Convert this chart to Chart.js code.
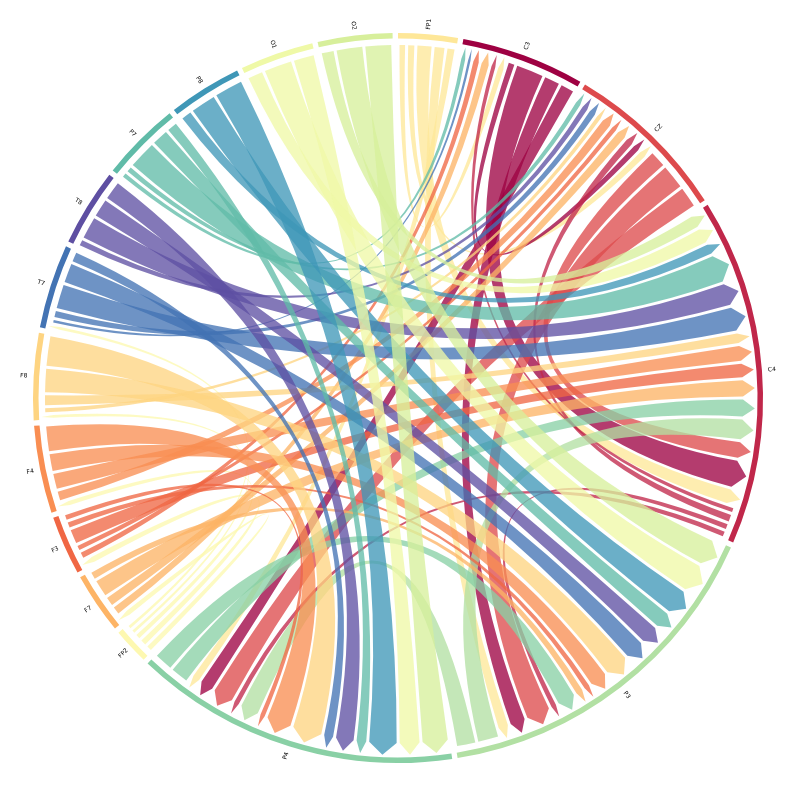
<!DOCTYPE html>
<html>
<head>
<meta charset="utf-8">
<title>Chord diagram</title>
<script src="https://cdn.jsdelivr.net/npm/chart.js@4"></script>
<style>
    html, body { margin: 0; padding: 0; background: #fff; }
    canvas { display: block; }
</style>
</head>
<body>
<canvas id="chordChart" width="796" height="796"></canvas>
<script>
// Sectors, clockwise from the top
const sectorNames = ["FP1", "C3", "CZ", "C4", "P3", "P4", "FP2", "F7", "F3", "F4", "F8", "T7", "T8", "P7", "P8", "O1", "O2"];
const sectorColors = ["#fee798", "#9e0142", "#dd4a4c", "#c0274a", "#b2e0a3", "#89d0a5", "#fdf8b0", "#fdb466", "#f06744", "#f98e52", "#fed481", "#4373b3", "#5e4fa2", "#60bba8", "#3f97b7", "#eff9a7", "#d7ef9b"];

// Links: source, target, width
const linkSource = [
    "FP1", "FP1", "FP1", "FP1", "FP1",
    "C3", "C3", "C3", "C3",
    "CZ", "CZ", "CZ",
    "C4", "C4", "C4", "C4",
    "P3", "P3",
    "P4", "P4",
    "FP2", "FP2", "FP2", "FP2", "FP2",
    "F7", "F7", "F7", "F7",
    "F3", "F3", "F3", "F3", "F3",
    "F4", "F4", "F4", "F4",
    "F8", "F8", "F8", "F8",
    "T7", "T7", "T7", "T7", "T7",
    "T8", "T8", "T8", "T8",
    "P7", "P7", "P7", "P7", "P7",
    "P8", "P8", "P8",
    "O1", "O1", "O1",
    "O2", "O2", "O2"
];
const linkTarget = [
    "C3", "CZ", "C4", "P3", "P4",
    "CZ", "C4", "P3", "P4",
    "C4", "P3", "P4",
    "C3", "CZ", "P3", "P4",
    "C4", "P4",
    "C4", "P3",
    "F7", "F3", "F4", "F8", "T7",
    "C3", "CZ", "C4", "P3",
    "C3", "CZ", "C4", "P3", "P4",
    "CZ", "C4", "P3", "P4",
    "CZ", "C4", "P3", "P4",
    "C3", "CZ", "C4", "P3", "P4",
    "CZ", "C4", "P3", "P4",
    "C3", "CZ", "C4", "P3", "P4",
    "C4", "P3", "P4",
    "C4", "P3", "P4",
    "C4", "P3", "P4"
];
const linkValue = [
    1.4, 1.5, 2.8, 2.1, 1.65,
    1.45, 4.9, 2.95, 2.6,
    3.1, 4.4, 3.8,
    1.15, 1.6, 1.3, 1.3,
    3.8, 3.5,
    3.3, 3.4,
    1.3, 1.4, 1.2, 0.95, 0.95,
    1.7, 1.9, 3.2, 1.6,
    1.4, 1.25, 2.75, 1.35, 1.25,
    1.95, 2.95, 3.25, 4.55,
    1.15, 2.1, 4.3, 5.3,
    0.9, 1.5, 4.4, 3.6, 2.0,
    1.4, 4.05, 3.4, 3.45,
    1.15, 1.3, 5.0, 3.1, 2.1,
    2.1, 4.55, 5.05,
    2.9, 5.0, 3.8,
    2.45, 4.7, 4.7
];

const sectorGap = 0.85;
const ringOuter = 365;
const ringInner = 359.5;
const linkRadius = 353;
const shoulderRadius = 345;
const tipRadius = 357;
const labelRadius = 375;
const linkInset = 0.25 * Math.PI / 180;
const linkAlpha = 0.77;

const links = linkValue.map((value, i) => ({
    source: sectorNames.indexOf(linkSource[i]),
    target: sectorNames.indexOf(linkTarget[i]),
    value: value
}));

const sectorTotals = sectorNames.map((name, s) =>
    links.filter(l => l.source === s || l.target === s).reduce((sum, l) => sum + l.value, 0));

// Every sector is followed by an empty slice, that makes the gap in the ring
const ringData = sectorTotals.flatMap(total => [total, sectorGap]);
const ringColors = sectorColors.flatMap(color => [color, "rgba(0,0,0,0)"]);

// Incoming ends come first (highest sector index first), then outgoing ones
const placeLinkEnds = (chart) => {
    const arcs = chart.getDatasetMeta(0).data;
    sectorNames.forEach((name, s) => {
        const arc = arcs[s * 2];
        const perUnit = (arc.endAngle - arc.startAngle) / sectorTotals[s];
        let angle = arc.startAngle;

        const incoming = links.filter(l => l.target === s).sort((a, b) => b.source - a.source);
        incoming.forEach(l => {
            l.targetStart = angle + linkInset;
            angle += l.value * perUnit;
            l.targetEnd = angle - linkInset;
        });

        const outgoing = links.filter(l => l.source === s).sort((a, b) => a.target - b.target);
        outgoing.forEach(l => {
            l.sourceStart = angle + linkInset;
            angle += l.value * perUnit;
            l.sourceEnd = angle - linkInset;
        });
    });
};

const chordPlugin = {
    id: "chordLinks",
    afterDatasetsDraw(chart) {
        placeLinkEnds(chart);
        const ctx = chart.ctx;
        const arc = chart.getDatasetMeta(0).data[0];
        const cx = arc.x;
        const cy = arc.y;
        const at = (r, a) => [cx + r * Math.cos(a), cy + r * Math.sin(a)];

        ctx.save();
        ctx.globalAlpha = linkAlpha;
        links.forEach(l => {
            const mid = (l.targetStart + l.targetEnd) / 2;
            ctx.beginPath();
            ctx.arc(cx, cy, linkRadius, l.sourceStart, l.sourceEnd);
            ctx.quadraticCurveTo(cx, cy, ...at(shoulderRadius, l.targetStart));
            ctx.lineTo(...at(tipRadius, mid));
            ctx.lineTo(...at(shoulderRadius, l.targetEnd));
            ctx.quadraticCurveTo(cx, cy, ...at(linkRadius, l.sourceStart));
            ctx.closePath();
            ctx.fillStyle = sectorColors[l.source];
            ctx.fill();
        });
        ctx.restore();
    },
    afterDraw(chart) {
        const ctx = chart.ctx;
        const arcs = chart.getDatasetMeta(0).data;
        ctx.save();
        ctx.fillStyle = "#000";
        ctx.font = "6px 'DejaVu Sans'";
        ctx.textAlign = "center";
        ctx.textBaseline = "middle";
        sectorNames.forEach((name, s) => {
            const mid = (arcs[s * 2].startAngle + arcs[s * 2].endAngle) / 2;
            const x = arcs[s * 2].x + labelRadius * Math.cos(mid);
            const y = arcs[s * 2].y + labelRadius * Math.sin(mid);
            // flip on the left half so the text stays readable
            const flip = Math.cos(mid) < 0;
            ctx.save();
            ctx.translate(x, y);
            ctx.rotate(flip ? mid + Math.PI : mid);
            ctx.fillText(name, 0, 0);
            ctx.restore();
        });
        ctx.restore();
    }
};

new Chart(document.getElementById("chordChart").getContext("2d"), {
    type: "doughnut",
    data: {
        labels: sectorNames.flatMap(name => [name, ""]),
        datasets: [{
            data: ringData,
            backgroundColor: ringColors,
            borderWidth: 0
        }]
    },
    options: {
        responsive: false,
        animation: false,
        radius: ringOuter,
        cutout: (ringInner / ringOuter * 100) + "%",
        rotation: 0,
        plugins: {
            legend: { display: false },
            tooltip: { enabled: false }
        }
    },
    plugins: [chordPlugin]
});
</script>
</body>
</html>
